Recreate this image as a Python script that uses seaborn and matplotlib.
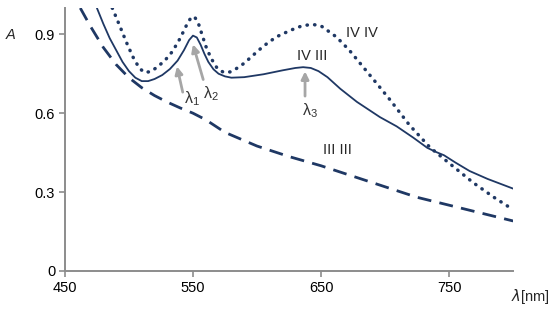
import numpy as np
import pandas as pd
import matplotlib
matplotlib.use("Agg")
import matplotlib.pyplot as plt
import seaborn as sns

# spectres (lambda en nm, absorbance A)
wl_33 = [462, 470, 480, 490, 500, 510, 520, 530, 540, 550, 560, 575, 600, 625, 650, 675, 700, 725, 750, 775, 800]
a_33 = [1.0, 0.93, 0.85, 0.785, 0.735, 0.697, 0.667, 0.642, 0.62, 0.60, 0.575, 0.527, 0.475, 0.435, 0.40, 0.36, 0.32, 0.28, 0.25, 0.22, 0.19]

wl_43 = [475, 480, 485, 490, 495, 500, 505, 510, 515, 520, 526, 532, 538, 543, 547, 550, 553, 556, 559, 562, 566, 570,
         575, 580, 590, 605, 620, 630, 636, 642, 648, 655, 665, 678, 696, 709, 722, 733, 740, 746, 755, 766, 780, 800]
a_43 = [1.0, 0.94, 0.885, 0.84, 0.795, 0.76, 0.735, 0.722, 0.722, 0.73, 0.745, 0.768, 0.80, 0.84, 0.878, 0.895, 0.888, 0.86, 0.825, 0.795, 0.767, 0.75,
        0.74, 0.735, 0.737, 0.748, 0.763, 0.772, 0.775, 0.772, 0.76, 0.737, 0.693, 0.643, 0.585, 0.55, 0.507, 0.468, 0.452, 0.44, 0.412, 0.38, 0.35, 0.313]

wl_44 = [487, 493, 498, 503, 508, 512, 517, 522, 528, 534, 540, 545, 548, 551, 554, 557, 560, 564, 569, 574, 579, 584, 590, 598, 605, 615, 626, 635, 643,
         650, 662, 672, 683, 694, 704, 719, 735, 750, 769, 785, 800]
a_44 = [1.0, 0.93, 0.87, 0.815, 0.772, 0.755, 0.758, 0.775, 0.80, 0.835, 0.885, 0.935, 0.96, 0.968, 0.945, 0.9, 0.855, 0.81, 0.77, 0.755, 0.757, 0.77, 0.79, 0.825, 0.855, 0.89, 0.915, 0.932, 0.938,
        0.932, 0.89, 0.84, 0.775, 0.71, 0.65, 0.555, 0.47, 0.41, 0.335, 0.28, 0.233]

xticks = [450, 550, 650, 750]
yticks = [0, 0.3, 0.6, 0.9]
ytick_labels = ["0", "0.3", "0.6", "0.9"]

sns.set_theme(style="white")
plt.rcParams["font.family"] = ["Liberation Sans", "DejaVu Sans"]

NAVY = "#1f3864"
GREY = "#8c8c8c"
ARROW = "#a6a6a6"

fig = plt.figure(figsize=(5.5, 3.21), dpi=100)
ax = fig.add_axes([0.118, 0.156, 0.815, 0.819])

sns.lineplot(x=wl_33, y=a_33, ax=ax, color=NAVY, lw=2.0, linestyle=(0, (5, 3)))
sns.lineplot(x=wl_43, y=a_43, ax=ax, color=NAVY, lw=1.3)
l44 = sns.lineplot(x=wl_44, y=a_44, ax=ax, color=NAVY, lw=2.5)
l44.lines[-1].set_linestyle((0, (0.1, 2.1)))
l44.lines[-1].set_dash_capstyle("round")

ax.set_xlim(450, 800)
ax.set_ylim(0, 1.0)
ax.set_xticks(xticks)
ax.set_yticks(yticks)
ax.set_yticklabels(ytick_labels)
ax.tick_params(axis="both", labelsize=10.5, colors="black", length=4, width=1.2,
               direction="out", bottom=True, left=True, pad=3)
ax.tick_params(axis="both", color=GREY)
for s in ["top", "right"]:
    ax.spines[s].set_visible(False)
for s in ["left", "bottom"]:
    ax.spines[s].set_color(GREY)
    ax.spines[s].set_linewidth(1.4)

# fleches et etiquettes
arr = dict(arrowstyle="-|>", color=ARROW, lw=2.0, mutation_scale=11, shrinkA=0, shrinkB=0)
ax.annotate("", xy=(537.5, 0.778), xytext=(542, 0.68), arrowprops=arr)
ax.annotate("", xy=(550, 0.862), xytext=(558, 0.728), arrowprops=arr)
ax.annotate("", xy=(637.5, 0.759), xytext=(637.5, 0.665), arrowprops=arr)
ax.text(549, 0.655, r"$\mathregular{\lambda_1}$", fontsize=11.5, ha="center", va="center", color="#333333")
ax.text(564, 0.675, r"$\mathregular{\lambda_2}$", fontsize=11.5, ha="center", va="center", color="#333333")
ax.text(641, 0.61, r"$\mathregular{\lambda_3}$", fontsize=11.5, ha="center", va="center", color="#333333")

ax.text(682, 0.905, "IV IV", fontsize=10.5, ha="center", va="center")
ax.text(643, 0.818, "IV III", fontsize=10.5, ha="center", va="center")
ax.text(663, 0.46, "III III", fontsize=10.5, ha="center", va="center")

fig.text(11 / 550, 1 - 35 / 321, "A", fontsize=10.5, style="italic", ha="center", va="center")
fig.text(530 / 550, 1 - 297 / 321, r"$\lambda$[nm]", fontsize=10.5, ha="center", va="center")

fig.savefig("out.png", dpi=100)
